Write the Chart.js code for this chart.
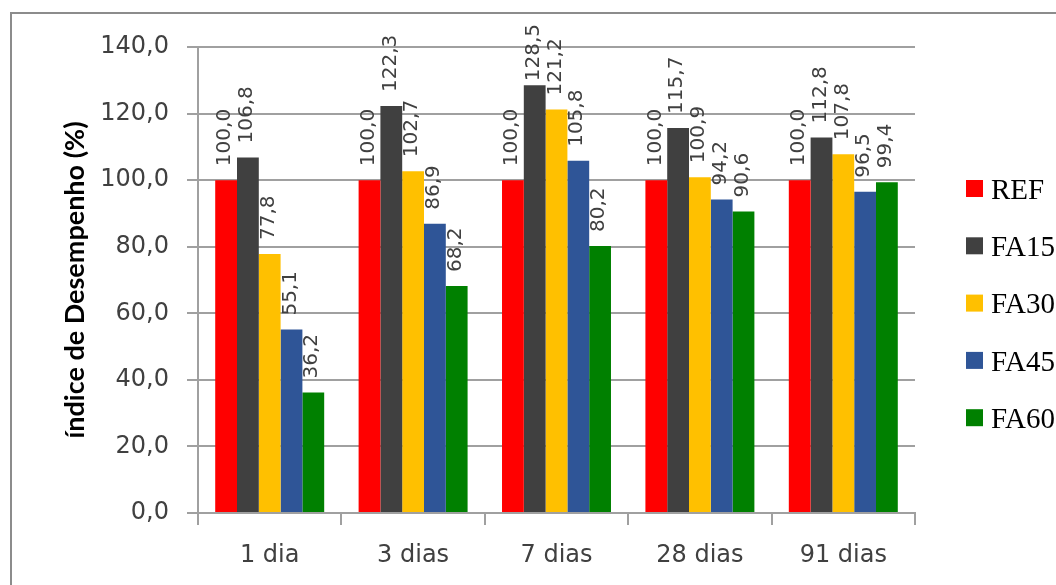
<!DOCTYPE html>
<html>
<head>
<meta charset="utf-8">
<script src="https://cdn.jsdelivr.net/npm/chart.js@4.4.1/dist/chart.umd.min.js"></script>
<style>
  html, body { margin: 0; padding: 0; background: #fff; overflow: hidden; }
  #wrap { position: relative; width: 1056px; height: 585px; }
  #frame { position: absolute; left: 10px; top: 12px; width: 1100px; height: 700px; border: 2px solid #8c8c8c; }
  canvas { position: absolute; left: 0; top: 0; }
</style>
</head>
<body>
<div id="wrap">
  <div id="frame"></div>
  <canvas id="grafico" width="1056" height="585"></canvas>
</div>
<script>
// dados
const idades = ['1 dia', '3 dias', '7 dias', '28 dias', '91 dias'];
const series = ['REF', 'FA15', 'FA30', 'FA45', 'FA60'];
const cores = ['#ff0000', '#404040', '#ffc000', '#2f5597', '#008000'];
const ref  = [100.0, 100.0, 100.0, 100.0, 100.0];
const fa15 = [106.8, 122.3, 128.5, 115.7, 112.8];
const fa30 = [77.8, 102.7, 121.2, 100.9, 107.8];
const fa45 = [55.1, 86.9, 105.8, 94.2, 96.5];
const fa60 = [36.2, 68.2, 80.2, 90.6, 99.4];
const valores = [ref, fa15, fa30, fa45, fa60];

const fmt = v => v.toFixed(1).replace('.', ',');

// rótulos verticais acima das barras (empurrados para baixo se passarem da borda)
const rotulos = {
    id: 'rotulos',
    afterDatasetsDraw(chart) {
        const ctx = chart.ctx;
        ctx.save();
        ctx.font = '20px "DejaVu Sans"';
        ctx.fillStyle = '#404040';
        ctx.textAlign = 'left';
        ctx.textBaseline = 'middle';
        chart.data.datasets.forEach((ds, i) => {
            chart.getDatasetMeta(i).data.forEach((bar, j) => {
                const txt = fmt(ds.data[j]);
                const w = ctx.measureText(txt).width;
                let base = bar.y - 14;
                if (base - w < 24) base = 24 + w;
                ctx.save();
                ctx.translate(bar.x - 1, base);
                ctx.rotate(-Math.PI / 2);
                ctx.fillText(txt, 0, 0);
                ctx.restore();
            });
        });
        ctx.restore();
    }
};

// legenda à direita (como no Excel)
const legenda = {
    id: 'legenda',
    afterDraw(chart) {
        const ctx = chart.ctx;
        ctx.save();
        ctx.font = '29px "Liberation Serif"';
        ctx.textBaseline = 'middle';
        chart.data.datasets.forEach((ds, i) => {
            const y = 188 + i * 57.3;
            ctx.fillStyle = ds.backgroundColor;
            ctx.fillRect(966, y - 8, 17, 17);
            ctx.fillStyle = '#000';
            ctx.fillText(ds.label, 991, y + 3);
        });
        ctx.restore();
    }
};

const datasets = series.map((nome, i) => ({
    label: nome,
    data: valores[i],
    backgroundColor: cores[i],
    borderWidth: 0
}));

new Chart(document.getElementById('grafico'), {
    type: 'bar',
    data: { labels: idades, datasets: datasets },
    options: {
        responsive: false,
        animation: false,
        layout: { padding: { left: 0, right: 141, top: 47, bottom: 0 } },
        datasets: { bar: { categoryPercentage: 0.76, barPercentage: 1.0 } },
        plugins: {
            legend: { display: false },
            tooltip: { enabled: false }
        },
        scales: {
            x: {
                grid: { drawOnChartArea: false, drawTicks: true, tickLength: 12, color: '#a0a0a0', lineWidth: 2 },
                border: { color: '#a0a0a0', width: 2 },
                ticks: { font: { family: 'DejaVu Sans', size: 24 }, color: '#404040', padding: 16 },
                afterFit: s => { s.height = 72; }
            },
            y: {
                min: 0,
                max: 140,
                ticks: { stepSize: 20, callback: v => fmt(v), font: { family: 'DejaVu Sans', size: 24 }, color: '#404040', padding: 18 },
                grid: { color: '#a0a0a0', lineWidth: 2, tickLength: 11 },
                border: { color: '#a0a0a0', width: 2 },
                title: {
                    display: true,
                    text: 'índice de Desempenho (%)',
                    font: { family: 'Lato', size: 27, weight: 'bold' },
                    color: '#000',
                    padding: { top: 59, bottom: 0 }
                },
                afterFit: s => { s.width = 198; }
            }
        }
    },
    plugins: [rotulos, legenda]
});
</script>
</body>
</html>
